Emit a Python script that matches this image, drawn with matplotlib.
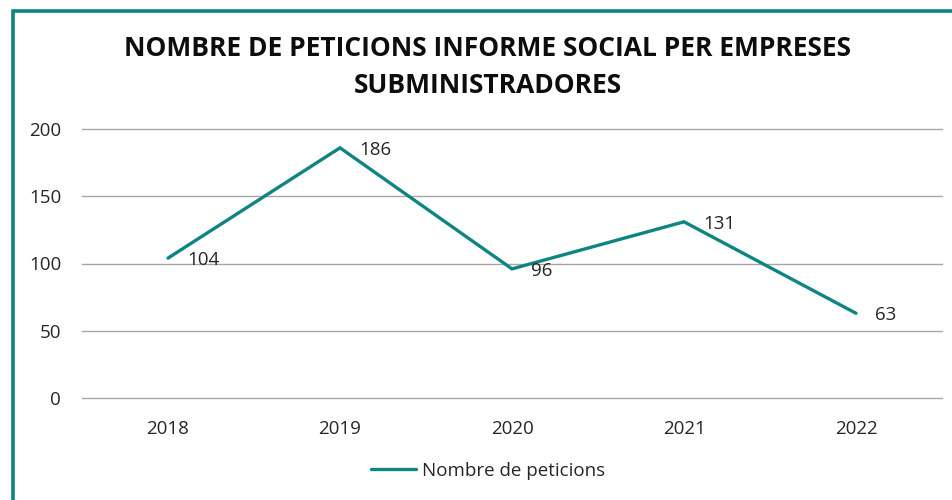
import matplotlib
matplotlib.use("Agg")
import matplotlib.pyplot as plt
from matplotlib.patches import Rectangle

# chart data
years = ["2018", "2019", "2020", "2021", "2022"]
peticions = [104, 186, 96, 131, 63]
yticks = [0, 50, 100, 150, 200]

title = "NOMBRE DE PETICIONS INFORME SOCIAL PER EMPRESES\nSUBMINISTRADORES"
series_name = "Nombre de peticions"
teal = "#0f8582"

plt.rcParams['font.family'] = ['Open Sans', 'DejaVu Sans']

W, H = 952, 500
fig = plt.figure(figsize=(W / 100, H / 100), dpi=100)

# outer frame (cropped on the right and bottom)
fig.patches.append(Rectangle((12.5 / W, -0.1), 1.2, (H - 10.5) / H + 0.1,
                             transform=fig.transFigure, fill=False,
                             edgecolor=teal, linewidth=2.6))

ax = fig.add_axes([82 / W, (H - 398) / H, 860 / W, 269 / H])
x = range(len(years))
line, = ax.plot(x, peticions, color=teal, linewidth=2.4, label=series_name,
                solid_capstyle='round', solid_joinstyle='miter')

for xi, v in zip(x, peticions):
    ax.annotate(str(v), (xi, v), xytext=(14, -1.5), textcoords='offset points',
                ha='left', va='center', fontsize=13.5, color='#262626')

ax.set_xlim(-0.5, len(years) - 0.5)
ax.set_ylim(0, 200)
ax.set_yticks(yticks)
ax.set_xticks(list(x))
ax.set_xticklabels(years)
ax.tick_params(length=0, labelsize=13.5, labelcolor='#262626')
ax.tick_params(axis='y', pad=15)
ax.tick_params(axis='x', pad=16)
for yv in yticks:
    ax.axhline(yv, color='#a6a6a6', linewidth=1, zorder=0, clip_on=False)
for s in ax.spines.values():
    s.set_visible(False)

fig.text(488 / W, 1 - 67 / H, title, ha='center', va='center',
         fontsize=19, fontweight='bold', color='#0d0d0d', linespacing=1.45)

fig.legend(handles=[line], loc='center', bbox_to_anchor=(488 / W, 1 - 471 / H),
           frameon=False, fontsize=13.5, handlelength=2.4, handletextpad=0.3,
           labelcolor='#262626')

fig.savefig("out.png", dpi=100)
